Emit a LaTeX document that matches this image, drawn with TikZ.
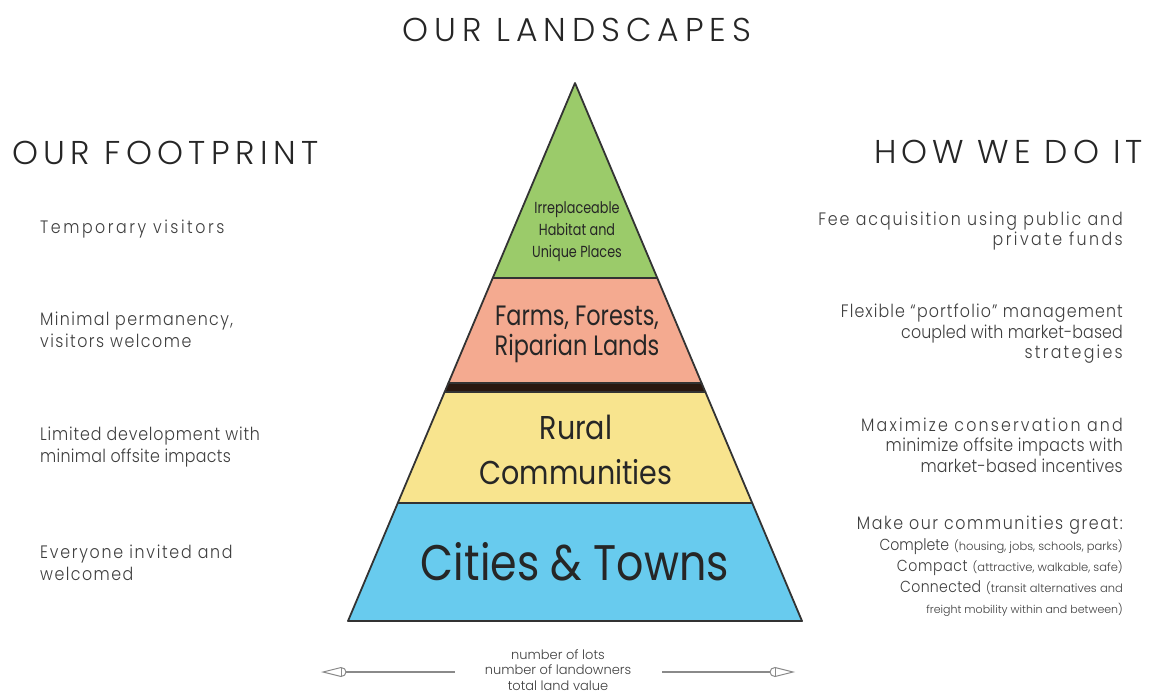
\documentclass[tikz,border=0pt]{standalone}
\usepackage{fontspec}
\setmainfont{Poppins}
\newfontfamily\lightf{Poppins}[UprightFont=*-Light]
\usetikzlibrary{calc}
\definecolor{txt}{HTML}{3E3E3E}
\definecolor{headc}{HTML}{262626}
\definecolor{pgreen}{HTML}{9BCB6A}
\definecolor{ppink}{HTML}{F4AA90}
\definecolor{pyellow}{HTML}{F8E48E}
\definecolor{pblue}{HTML}{68CBEE}
\definecolor{pband}{HTML}{2A1810}
\definecolor{edge}{HTML}{333333}
\definecolor{arr}{HTML}{8A8A8A}
\newcommand\trk[2]{{\addfontfeatures{LetterSpace=#1}#2}}
\begin{document}
\begin{tikzpicture}[x=1pt,y=-1pt,
  head/.style={inner sep=0pt, text=headc, font=\lightf\fontsize{33}{36}\selectfont},
  side/.style={inner sep=0pt, text=txt, font=\lightf\fontsize{18}{21.5}\selectfont\addfontfeatures{FakeStretch=0.88}},
  rside/.style={side, anchor=east, align=right, font=\lightf\fontsize{18}{20.5}\selectfont\addfontfeatures{FakeStretch=0.88}},
  layer/.style={draw=edge, line width=1.8pt, line join=round},
  ptext/.style={inner sep=0pt, align=center, text=black!85},
  arrline/.style={draw=arr, line width=1.2pt},
  tip/.style={draw=arr, line width=1pt, fill=white}
]
\useasboundingbox (0,0) rectangle (1155,694);

% headings
\node[head] (title) at (577,30) {\trk{18}{OUR LANDSCAPES}};
\node[head, anchor=west] (fp) at (12,153) {\trk{16.3}{OUR FOOTPRINT}};
\node[head, anchor=east] (how) at (1143,152) {\trk{15}{HOW WE DO IT}};

% pyramid geometry
\coordinate (A) at (575,83);
\coordinate (BL) at (348,621);
\coordinate (BR) at (802,621);
\coordinate (L1) at ($(A)!0.3625!(BL)$);
\coordinate (R1) at ($(A)!0.3625!(BR)$);
\coordinate (L2) at ($(A)!0.5576!(BL)$);
\coordinate (R2) at ($(A)!0.5576!(BR)$);
\coordinate (L3) at ($(A)!0.5743!(BL)$);
\coordinate (R3) at ($(A)!0.5743!(BR)$);
\coordinate (L4) at ($(A)!0.7807!(BL)$);
\coordinate (R4) at ($(A)!0.7807!(BR)$);

\path[layer, fill=pgreen] (A) -- (R1) -- (L1) -- cycle;
\path[layer, fill=ppink] (L1) -- (R1) -- (R2) -- (L2) -- cycle;
\path[layer, fill=pband] (L2) -- (R2) -- (R3) -- (L3) -- cycle;
\path[layer, fill=pyellow] (L3) -- (R3) -- (R4) -- (L4) -- cycle;
\path[layer, fill=pblue] (L4) -- (R4) -- (BR) -- (BL) -- cycle;

\node[ptext, font=\fontsize{16}{22}\selectfont\addfontfeatures{FakeStretch=0.8}] (hab) at (577,232) {Irreplaceable\\Habitat and\\Unique Places};
\node[ptext, font=\fontsize{28}{30}\selectfont\addfontfeatures{FakeStretch=0.8}] (farm) at (577,334) {Farms, Forests,\\Riparian Lands};
\node[ptext, font=\fontsize{33}{45}\selectfont\addfontfeatures{FakeStretch=0.865}] (rural) at (576,450) {Rural\\Communities};
\node[ptext, font=\fontsize{50}{55}\selectfont\addfontfeatures{FakeStretch=0.855}] (city) at (575,562) {Cities \& Towns};

% left column
\node[side, anchor=west, align=left] (f1) at (40,229) {\trk{14}{Temporary visitors}};
\node[side, anchor=west, align=left] (f2) at (40,330) {\trk{7.6}{Minimal permanency,}\\\trk{8.3}{visitors welcome}};
\node[side, anchor=west, align=left] (f3) at (40,447) {\trk{4.6}{Limited development with}\\\trk{1.6}{minimal offsite impacts}};
\node[side, anchor=west, align=left] (f4) at (40,563) {\trk{9.6}{Everyone invited and}\\\trk{8}{welcomed}};

% right column
\node[rside] (h1) at (1123,231) {\trk{10.6}{Fee acquisition using public and}\\\trk{13.6}{private funds}};
\node[rside] (h2) at (1123,334) {\trk{6.2}{Flexible “portfolio” management}\\\trk{0.5}{coupled with market-based}\\\trk{12.6}{strategies}};
\node[rside] (h3) at (1123,445) {\trk{12}{Maximize conservation and}\\\trk{2.1}{minimize offsite impacts with}\\\trk{1.3}{market-based incentives}};
\node[rside, font=\lightf\fontsize{18}{21}\selectfont] (h4) at (1123,566)
  {{\addfontfeatures{FakeStretch=0.88}\trk{8.9}{Make our communities great:}}\\
   {\fontsize{16}{21}\selectfont\addfontfeatures{FakeStretch=0.88}Complete} {\fontsize{11.5}{21}\selectfont (housing, jobs, schools, parks)}\\
   {\fontsize{16}{21}\selectfont\addfontfeatures{FakeStretch=0.88}\trk{4}{Compact}} {\fontsize{11.5}{21}\selectfont (attractive, walkable, safe)}\\
   {\fontsize{16}{21}\selectfont\addfontfeatures{FakeStretch=0.88}\trk{2}{Connected}} {\fontsize{11.5}{21}\selectfont (transit alternatives and}\\
   {\fontsize{11}{22}\selectfont freight mobility within and between)}};

% bottom
\node[inner sep=0pt, align=center, text=txt, font=\lightf\fontsize{13}{15.5}\selectfont] (meas) at (558,670) {number of lots\\number of landowners\\total land value};

\coordinate (lt) at (323,672);
\coordinate (le) at (455,672);
\coordinate (rt) at (793,672);
\coordinate (re) at (662,672);
\draw[arrline] ($(lt)+(22,0)$) -- (le);
\draw[arrline] ($(rt)+(-22,0)$) -- (re);
\draw[tip] (lt) -- ++(18,-4.5) arc[start angle=-90, end angle=90, x radius=5, y radius=4.5] -- cycle;
\draw[tip] ($(lt)+(18,-4.5)$) -- ++(0,9);
\draw[tip] (rt) -- ++(-18,-4.5) arc[start angle=-90, end angle=-270, x radius=5, y radius=4.5] -- cycle;
\draw[tip] ($(rt)+(-18,-4.5)$) -- ++(0,9);
\end{tikzpicture}
\end{document}
